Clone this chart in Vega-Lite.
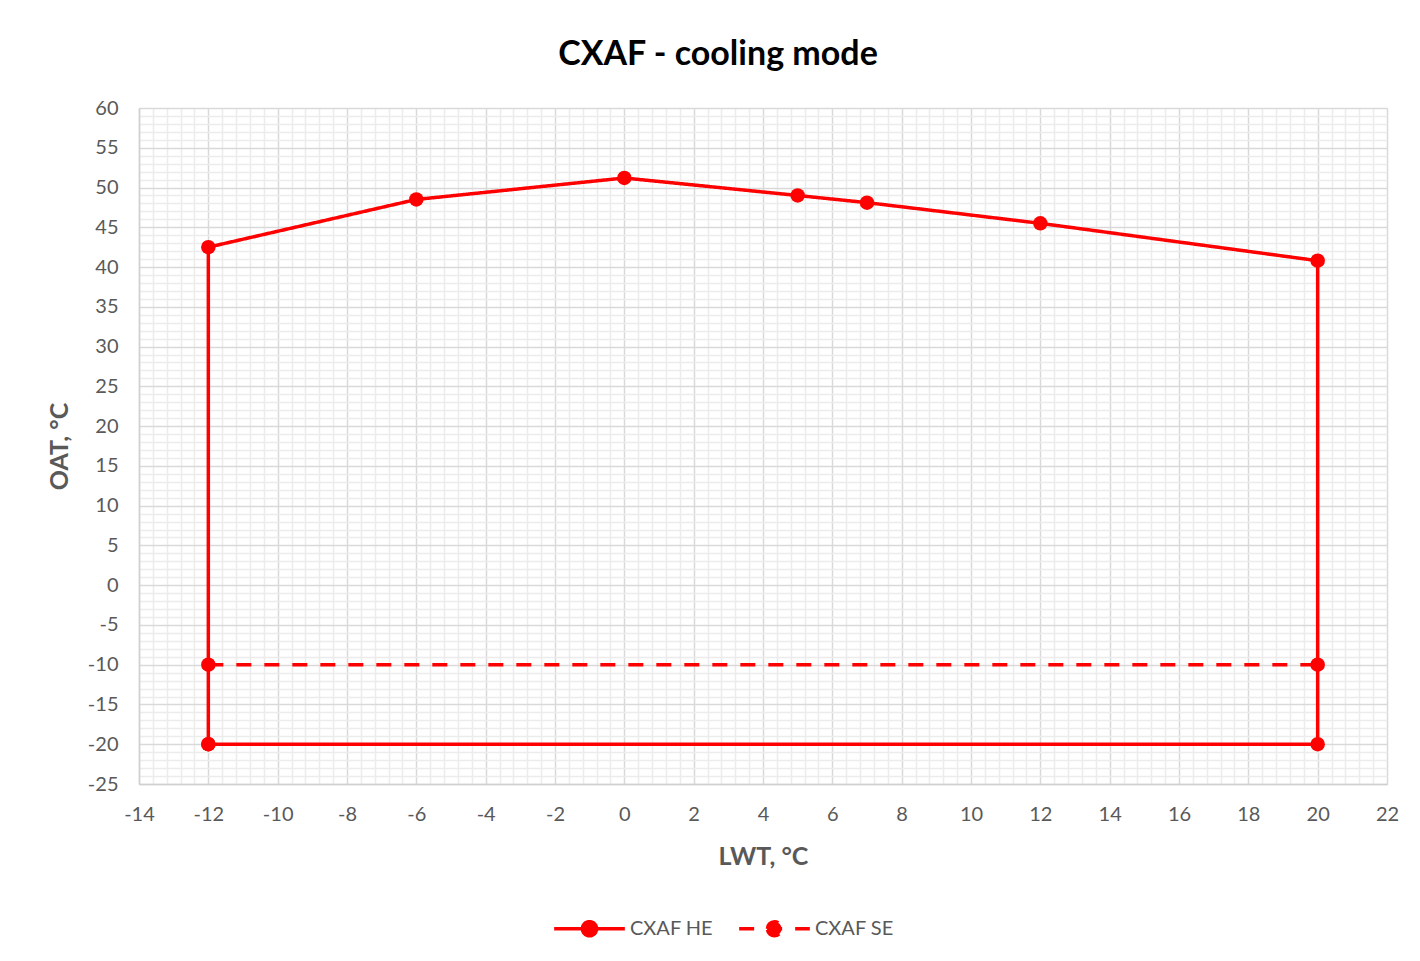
{
  "$schema": "https://vega.github.io/schema/vega-lite/v6.json",
  "width": 1248,
  "height": 676,
  "autosize": {"type": "none"},
  "padding": {"left": 139, "top": 108, "right": 33, "bottom": 177},
  "background": "white",
  "config": {"view": {"stroke": null}, "font": "Lato"},
  "title": {"text": "CXAF - cooling mode", "fontSize": 34, "font": "Lato", "fontWeight": "bold", "color": "#000000", "anchor": "middle", "dx": -45, "offset": 26},
  "data": {"values": [
    {"series": "CXAF HE", "ord": 1, "lwt": -12, "oat": -20},
    {"series": "CXAF HE", "ord": 2, "lwt": -12, "oat": 42.5},
    {"series": "CXAF HE", "ord": 3, "lwt": -6, "oat": 48.5},
    {"series": "CXAF HE", "ord": 4, "lwt": 0, "oat": 51.2},
    {"series": "CXAF HE", "ord": 5, "lwt": 5, "oat": 49},
    {"series": "CXAF HE", "ord": 6, "lwt": 7, "oat": 48.1},
    {"series": "CXAF HE", "ord": 7, "lwt": 12, "oat": 45.5},
    {"series": "CXAF HE", "ord": 8, "lwt": 20, "oat": 40.8},
    {"series": "CXAF HE", "ord": 9, "lwt": 20, "oat": -20},
    {"series": "CXAF HE", "ord": 10, "lwt": -12, "oat": -20},
    {"series": "CXAF SE", "ord": 1, "lwt": -12, "oat": -10},
    {"series": "CXAF SE", "ord": 2, "lwt": 20, "oat": -10}
  ]},
  "mark": {"type": "line", "strokeWidth": 3.5, "point": {"size": 210, "filled": true}},
  "encoding": {
    "x": {
      "field": "lwt", "type": "quantitative",
      "scale": {"domain": [-14, 22], "nice": false, "zero": false},
      "axis": {
        "values": [-14,-13.6,-13.2,-12.8,-12.4,-12,-11.6,-11.2,-10.8,-10.4,-10,-9.6,-9.2,-8.8,-8.4,-8,-7.6,-7.2,-6.8,-6.4,-6,-5.6,-5.2,-4.8,-4.4,-4,-3.6,-3.2,-2.8,-2.4,-2,-1.6,-1.2,-0.8,-0.4,0,0.4,0.8,1.2,1.6,2,2.4,2.8,3.2,3.6,4,4.4,4.8,5.2,5.6,6,6.4,6.8,7.2,7.6,8,8.4,8.8,9.2,9.6,10,10.4,10.8,11.2,11.6,12,12.4,12.8,13.2,13.6,14,14.4,14.8,15.2,15.6,16,16.4,16.8,17.2,17.6,18,18.4,18.8,19.2,19.6,20,20.4,20.8,21.2,21.6,22],
        "grid": true,
        "gridColor": {"condition": {"test": "abs(datum.value % 2) < 0.01", "value": "#d9d9d9"}, "value": "#ececec"},
        "gridWidth": 1.5,
        "ticks": false,
        "domain": true, "domainColor": "#d0d0d0", "domainWidth": 1.5,
        "labelExpr": "abs(datum.value % 2) < 0.01 ? '' + datum.value : ''",
        "labelOverlap": false, "labelFlush": false, "labelBound": false,
        "labelFont": "Lato", "labelFontSize": 20, "labelColor": "#595959", "labelPadding": 20,
        "title": "LWT, °C", "titleFont": "Lato", "titleFontSize": 25, "titleFontWeight": "bold", "titleColor": "#595959", "titlePadding": 20
      }
    },
    "y": {
      "field": "oat", "type": "quantitative",
      "scale": {"domain": [-25, 60], "nice": false, "zero": false},
      "axis": {
        "values": [-25,-24,-23,-22,-21,-20,-19,-18,-17,-16,-15,-14,-13,-12,-11,-10,-9,-8,-7,-6,-5,-4,-3,-2,-1,0,1,2,3,4,5,6,7,8,9,10,11,12,13,14,15,16,17,18,19,20,21,22,23,24,25,26,27,28,29,30,31,32,33,34,35,36,37,38,39,40,41,42,43,44,45,46,47,48,49,50,51,52,53,54,55,56,57,58,59,60],
        "grid": true,
        "gridColor": {"condition": {"test": "datum.value % 5 === 0", "value": "#d9d9d9"}, "value": "#ececec"},
        "gridWidth": 1.5,
        "ticks": false,
        "domain": true, "domainColor": "#d0d0d0", "domainWidth": 1.5,
        "labelExpr": "datum.value % 5 === 0 ? '' + datum.value : ''",
        "labelOverlap": false, "labelFlush": false, "labelBound": false,
        "labelFont": "Lato", "labelFontSize": 20, "labelColor": "#595959", "labelPadding": 21,
        "title": "OAT, °C", "titleFont": "Lato", "titleFontSize": 25, "titleFontWeight": "bold", "titleColor": "#595959", "titlePadding": 15
      }
    },
    "color": {
      "field": "series", "type": "nominal",
      "scale": {"domain": ["CXAF HE", "CXAF SE"], "range": ["#ff0000", "#ff0000"]},
      "legend": {
        "title": null, "orient": "none", "legendX": 413, "legendY": 783, "direction": "horizontal",
        "symbolType": "M-1,0L1,0M-0.2,0A0.2,0.2,0,1,1,0.2,0A0.2,0.2,0,1,1,-0.2,0Z",
        "symbolSize": 5000, "symbolStrokeWidth": 3.5,
        "labelFont": "Lato", "labelFontSize": 20, "labelColor": "#595959", "labelOffset": 3, "columnPadding": 18,
        "encode": {"symbols": {"update": {"fill": {"value": "#ff0000"}, "stroke": {"value": "#ff0000"}}}}
      }
    },
    "strokeDash": {
      "field": "series", "type": "nominal",
      "scale": {"domain": ["CXAF HE", "CXAF SE"], "range": [[1, 0], [15, 13]]},
      "legend": {
        "title": null, "orient": "none", "legendX": 413, "legendY": 783, "direction": "horizontal",
        "symbolType": "M-1,0L1,0M-0.2,0A0.2,0.2,0,1,1,0.2,0A0.2,0.2,0,1,1,-0.2,0Z",
        "symbolSize": 5000, "symbolStrokeWidth": 3.5,
        "labelFont": "Lato", "labelFontSize": 20, "labelColor": "#595959", "labelOffset": 3, "columnPadding": 18,
        "encode": {"symbols": {"update": {"fill": {"value": "#ff0000"}, "stroke": {"value": "#ff0000"}}}}
      }
    },
    "order": {"field": "ord", "type": "quantitative"}
  }
}
